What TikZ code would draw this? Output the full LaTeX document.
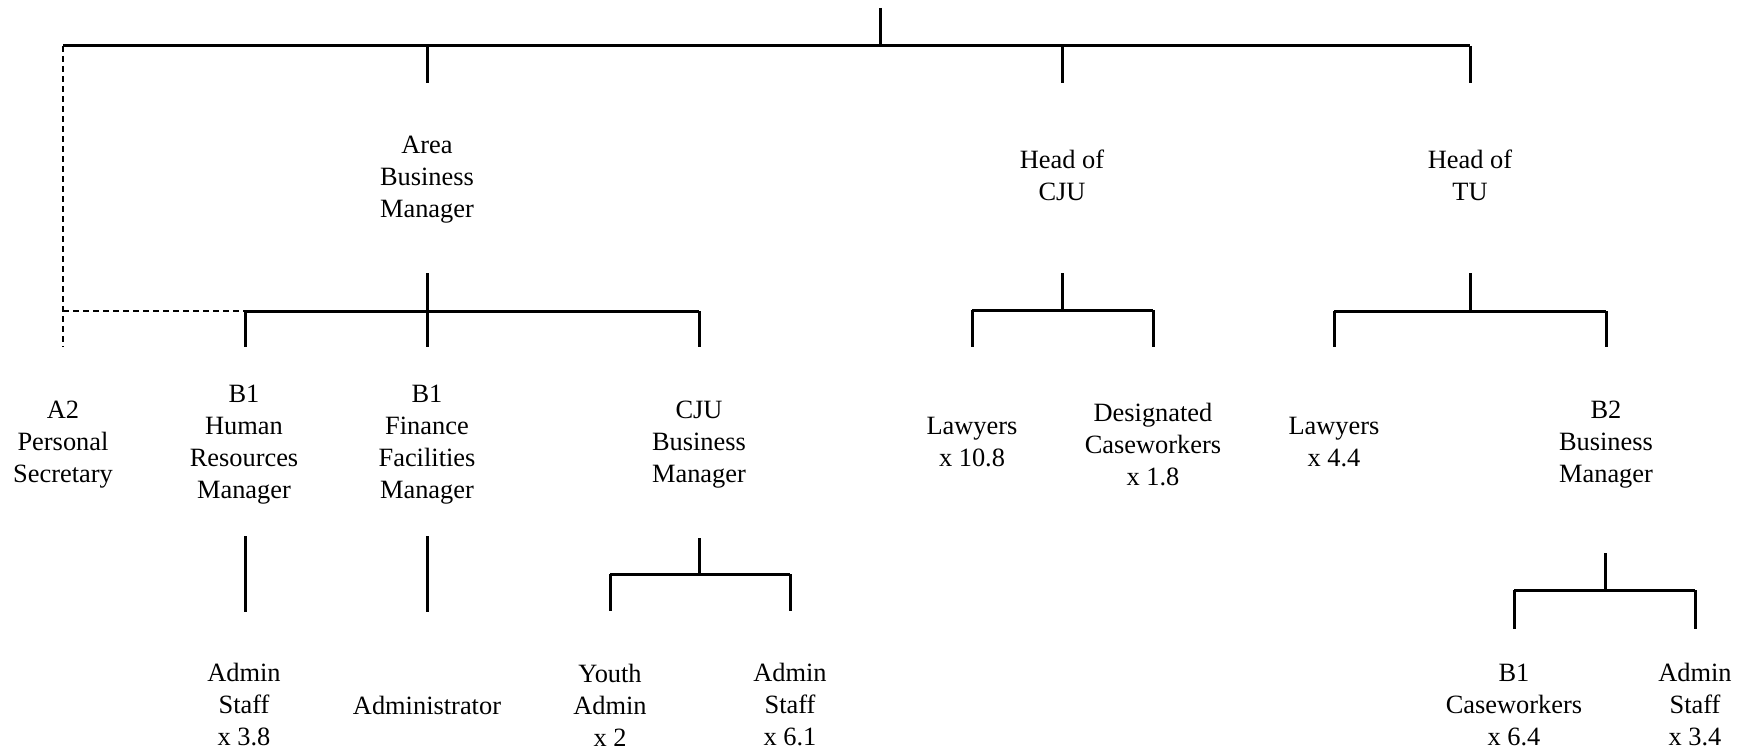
\documentclass[tikz,border=0pt]{standalone}
\usepackage{fontspec}
\setmainfont{Liberation Serif}
\begin{document}
\begin{tikzpicture}[x=1pt,y=-1pt,
  lbl/.style={align=center,inner sep=0pt,font=\fontsize{26.4}{32}\selectfont},
  conn/.style={line width=3pt},
  dashconn/.style={line width=2pt,dash pattern=on 6pt off 4pt}]
\useasboundingbox (0,0) rectangle (1742,752);
% level 1 nodes
\node[lbl] (abm) at (427,179.5) {Area\\Business\\Manager};
\node[lbl] (hcju) at (1062,175) {Head of\\CJU};
\node[lbl] (htu) at (1470,175) {Head of\\TU};
% level 2 nodes
\node[lbl] (a2) at (63,445) {A2\\Personal\\Secretary};
\node[lbl] (hr) at (244,445) {B1\\Human\\Resources\\Manager};
\node[lbl] (fin) at (427,445) {B1\\Finance\\Facilities\\Manager};
\node[lbl] (cjubm) at (699,445) {CJU\\Business\\Manager};
\node[lbl] (law1) at (972,442) {Lawyers\\x 10.8};
\node[lbl] (des) at (1153,445) {Designated\\Caseworkers\\x 1.8};
\node[lbl] (law2) at (1334,442) {Lawyers\\x 4.4};
\node[lbl] (b2) at (1606,445) {B2\\Business\\Manager};
% level 3 nodes
\node[lbl] (hradm) at (244,705) {Admin\\Staff\\x 3.8};
\node[lbl] (admr) at (427,705) {Administrator};
\node[lbl] (youth) at (610,705) {Youth\\Admin\\x 2};
\node[lbl] (cjuadm) at (790,705) {Admin\\Staff\\x 6.1};
\node[lbl] (b1cw) at (1514,705) {B1\\Caseworkers\\x 6.4};
\node[lbl] (tuadm) at (1695,705) {Admin\\Staff\\x 3.4};
% coordinates: top level
\coordinate (top) at (880,8);
\coordinate (topj) at (880,46);
\coordinate (tl) at (63,46);
\coordinate (tr) at (1470,46);
\coordinate (abmT) at (427,83);
\coordinate (hcjuT) at (1062,83);
\coordinate (htuT) at (1470,83);
\coordinate (abmj) at (427,46);
\coordinate (hcjuj) at (1062,46);
\draw[conn] (top) -- (topj);
\draw[conn] (tl) -- (tr);
\draw[conn] (abmj) -- (abmT);
\draw[conn] (hcjuj) -- (hcjuT);
\draw[conn] (tr) -- (htuT);
% Area business manager subtree
\coordinate (abmB) at (427,273);
\coordinate (hrj) at (245,311);
\coordinate (cjubmj) at (699,311);
\coordinate (hrT) at (245,347);
\coordinate (finT) at (427,347);
\coordinate (cjubmT) at (699,347);
\draw[conn] (abmB) -- (finT);
\draw[conn] (hrj) -- (cjubmj);
\draw[conn] (hrj) -- (hrT);
\draw[conn] (cjubmj) -- (cjubmT);
% dashed to A2
\coordinate (a2T) at (63,347);
\coordinate (a2j) at (63,311);
\draw[dashconn] (tl) -- (a2T);
\draw[dashconn] (a2j) -- (hrj);
% Head of CJU subtree
\coordinate (hcjuB) at (1062,273);
\coordinate (hcjuH) at (1062,310);
\coordinate (law1j) at (972,310);
\coordinate (desj) at (1153,310);
\coordinate (law1T) at (972,347);
\coordinate (desT) at (1153,347);
\draw[conn] (hcjuB) -- (hcjuH);
\draw[conn] (law1j) -- (desj);
\draw[conn] (law1j) -- (law1T);
\draw[conn] (desj) -- (desT);
% Head of TU subtree
\coordinate (htuB) at (1470,273);
\coordinate (htuH) at (1470,311);
\coordinate (law2j) at (1334,311);
\coordinate (b2j) at (1606,311);
\coordinate (law2T) at (1334,347);
\coordinate (b2T) at (1606,347);
\draw[conn] (htuB) -- (htuH);
\draw[conn] (law2j) -- (b2j);
\draw[conn] (law2j) -- (law2T);
\draw[conn] (b2j) -- (b2T);
% level 3 connectors
\coordinate (hrB) at (245,536);
\coordinate (hradmT) at (245,612);
\draw[conn] (hrB) -- (hradmT);
\coordinate (finB) at (427,536);
\coordinate (admrT) at (427,612);
\draw[conn] (finB) -- (admrT);
\coordinate (cjubmB) at (699,538);
\coordinate (cjubmH) at (699,574);
\coordinate (youthj) at (610,574);
\coordinate (cjuadmj) at (790,574);
\coordinate (youthT) at (610,611);
\coordinate (cjuadmT) at (790,611);
\draw[conn] (cjubmB) -- (cjubmH);
\draw[conn] (youthj) -- (cjuadmj);
\draw[conn] (youthj) -- (youthT);
\draw[conn] (cjuadmj) -- (cjuadmT);
\coordinate (b2B) at (1605,553);
\coordinate (b2H) at (1605,590);
\coordinate (b1cwj) at (1514,590);
\coordinate (tuadmj) at (1695,590);
\coordinate (b1cwT) at (1514,629);
\coordinate (tuadmT) at (1695,629);
\draw[conn] (b2B) -- (b2H);
\draw[conn] (b1cwj) -- (tuadmj);
\draw[conn] (b1cwj) -- (b1cwT);
\draw[conn] (tuadmj) -- (tuadmT);
\end{tikzpicture}
\end{document}
